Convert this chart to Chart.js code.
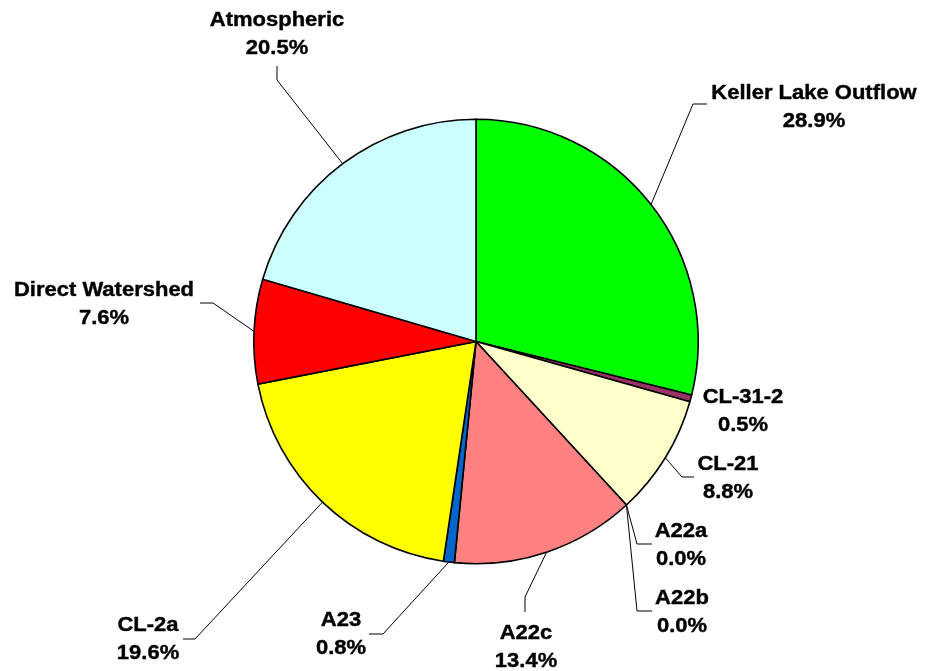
<!DOCTYPE html>
<html>
<head>
<meta charset="utf-8">
<script src="https://cdn.jsdelivr.net/npm/chart.js@4/dist/chart.umd.min.js"></script>
<style>
  html, body { margin: 0; padding: 0; background: #ffffff; }
  #wrap { width: 925px; height: 671px; position: relative; }
</style>
</head>
<body>
<div id="wrap"><canvas id="pie"></canvas></div>
<script>
// Load sources, clockwise from 12 o'clock
const sources = ['Keller Lake Outflow', 'CL-31-2', 'CL-21', 'A22a', 'A22b', 'A22c', 'A23', 'CL-2a', 'Direct Watershed', 'Atmospheric'];
const shares = [28.9, 0.5, 8.8, 0.0, 0.0, 13.4, 0.8, 19.6, 7.6, 20.5];
const sliceColors = ['#00FF00', '#993366', '#FFFFCC', '#FF8080', '#FF8080', '#FF8080', '#0066CC', '#FFFF00', '#FF0000', '#CCFFFF'];

// Label placement: text centre x, first baseline y, and leader-line bend points (null = no leader)
const labelLayout = [
  { x: 814, y: 99,  leader: [[693, 104], [707, 104]] },
  { x: 743, y: 403, leader: null },
  { x: 728, y: 470, leader: [[682, 477], [694, 477]] },
  { x: 681, y: 537, leader: [[637, 544], [652, 544]] },
  { x: 682, y: 604, leader: [[637, 611], [652, 611]] },
  { x: 526, y: 639, leader: [[525, 597], [525, 612]] },
  { x: 341, y: 626, leader: [[383, 634], [369, 634]] },
  { x: 148, y: 631, leader: [[195, 639], [183, 639]] },
  { x: 104, y: 296, leader: [[213, 303], [200, 303]] },
  { x: 277, y: 26,  leader: [[277, 80], [277, 66]] }
];

const LINE_GAP = 28;
const FONT = 'bold 20px "Liberation Sans", Arial, sans-serif';

const leaderLabels = {
  id: 'leaderLabels',
  afterDatasetsDraw(chart) {
    const ctx = chart.ctx;
    const meta = chart.getDatasetMeta(0);
    const data = chart.data.datasets[0].data;
    ctx.save();
    meta.data.forEach((arc, i) => {
      const lay = labelLayout[i];
      const p = arc.getProps(['x', 'y', 'startAngle', 'endAngle', 'outerRadius'], true);
      const mid = (p.startAngle + p.endAngle) / 2;
      const sx = p.x + p.outerRadius * Math.cos(mid);
      const sy = p.y + p.outerRadius * Math.sin(mid);
      if (lay.leader) {
        ctx.beginPath();
        ctx.strokeStyle = '#000000';
        ctx.lineWidth = 1;
        ctx.moveTo(sx, sy);
        lay.leader.forEach(pt => ctx.lineTo(pt[0], pt[1]));
        ctx.stroke();
      }
      ctx.fillStyle = '#000000';
      ctx.strokeStyle = '#000000';
      ctx.lineWidth = 0.4;
      ctx.font = FONT;
      ctx.textAlign = 'center';
      ctx.textBaseline = 'alphabetic';
      const drawLine = (txt, x, y) => {
        ctx.save();
        ctx.translate(x, y);
        ctx.scale(1.1, 1);
        ctx.fillText(txt, 0, 0);
        ctx.strokeText(txt, 0, 0);
        ctx.restore();
      };
      drawLine(chart.data.labels[i], lay.x, lay.y);
      drawLine(data[i].toFixed(1) + '%', lay.x, lay.y + LINE_GAP);
    });
    ctx.restore();
  }
};

new Chart(document.getElementById('pie'), {
  type: 'pie',
  data: {
    labels: sources,
    datasets: [{
      data: shares,
      backgroundColor: sliceColors,
      borderColor: '#000000',
      borderWidth: 1.6,
      borderJoinStyle: 'miter'
    }]
  },
  options: {
    responsive: true,
    maintainAspectRatio: false,
    animation: false,
    layout: { padding: { left: 253, right: 226, top: 118, bottom: 106 } },
    plugins: {
      legend: { display: false },
      tooltip: { enabled: false }
    }
  },
  plugins: [leaderLabels]
});
</script>
</body>
</html>
